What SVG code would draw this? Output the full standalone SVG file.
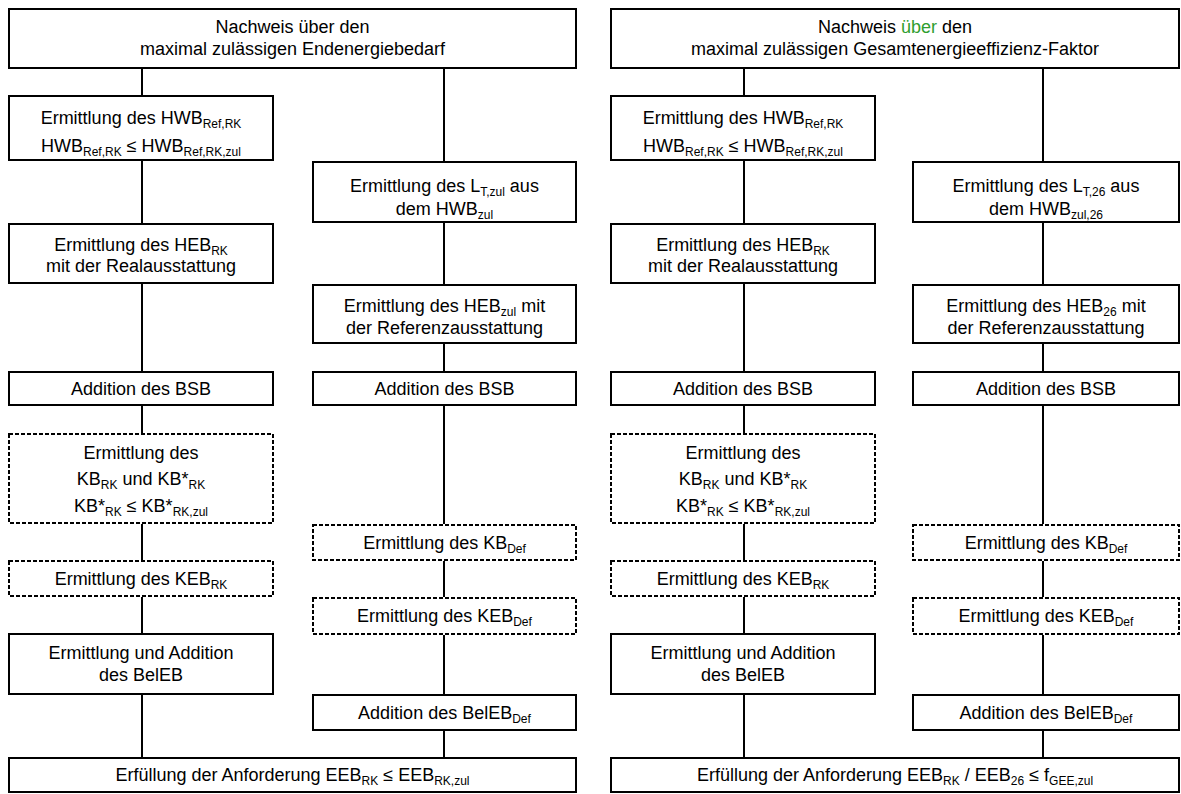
<svg xmlns="http://www.w3.org/2000/svg" width="1181" height="794" viewBox="0 0 1181 794">
<style>
text{font-family:"Liberation Sans",Arial,sans-serif;font-size:18px;fill:#000;text-anchor:middle}
.s{font-size:12px}
.box{fill:#fff;stroke:#000;stroke-width:2}
.dash{fill:#fff;stroke:#000;stroke-width:2;stroke-dasharray:4 2}
.con line{stroke:#000;stroke-width:2}
.g{fill:#2f9e2f}
</style>
<rect width="1181" height="794" fill="#fff"/>
<g id="connectors" class="con">
<line x1="142" y1="69" x2="142" y2="95"/>
<line x1="142" y1="161" x2="142" y2="223"/>
<line x1="142" y1="284" x2="142" y2="371"/>
<line x1="142" y1="406" x2="142" y2="433"/>
<line x1="142" y1="524" x2="142" y2="560"/>
<line x1="142" y1="597" x2="142" y2="633"/>
<line x1="142" y1="695" x2="142" y2="757"/>
<line x1="444" y1="69" x2="444" y2="161"/>
<line x1="444" y1="223" x2="444" y2="284"/>
<line x1="444" y1="344" x2="444" y2="371"/>
<line x1="444" y1="406" x2="444" y2="524"/>
<line x1="444" y1="561" x2="444" y2="597"/>
<line x1="444" y1="635" x2="444" y2="694"/>
<line x1="444" y1="731" x2="444" y2="757"/>
<line x1="744" y1="69" x2="744" y2="95"/>
<line x1="744" y1="161" x2="744" y2="223"/>
<line x1="744" y1="284" x2="744" y2="371"/>
<line x1="744" y1="406" x2="744" y2="433"/>
<line x1="744" y1="524" x2="744" y2="560"/>
<line x1="744" y1="597" x2="744" y2="633"/>
<line x1="744" y1="695" x2="744" y2="757"/>
<line x1="1043" y1="69" x2="1043" y2="161"/>
<line x1="1043" y1="223" x2="1043" y2="284"/>
<line x1="1043" y1="344" x2="1043" y2="371"/>
<line x1="1043" y1="406" x2="1043" y2="524"/>
<line x1="1043" y1="561" x2="1043" y2="597"/>
<line x1="1043" y1="635" x2="1043" y2="694"/>
<line x1="1043" y1="731" x2="1043" y2="757"/>
</g>

<!-- Left diagram -->
<g id="L_top"><rect class="box" x="9" y="9" width="567" height="59"/>
<text x="292.5" y="33">Nachweis über den</text>
<text x="292.5" y="55">maximal zulässigen Endenergiebedarf</text></g>
<g id="L_hwb"><rect class="box" x="9" y="96" width="264" height="64"/>
<text x="141" y="124">Ermittlung des HWB<tspan class="s" dy="4">Ref,RK</tspan></text>
<text x="141" y="152">HWB<tspan class="s" dy="4">Ref,RK</tspan><tspan dy="-4"> ≤ HWB</tspan><tspan class="s" dy="4">Ref,RK,zul</tspan></text></g>
<g id="L_lt"><rect class="box" x="313" y="162" width="263" height="60"/>
<text x="444.5" y="192">Ermittlung des L<tspan class="s" dy="4">T,zul</tspan><tspan dy="-4"> aus</tspan></text>
<text x="444.5" y="215">dem HWB<tspan class="s" dy="4">zul</tspan></text></g>
<g id="L_heb"><rect class="box" x="9" y="224" width="264" height="59"/>
<text x="141" y="251">Ermittlung des HEB<tspan class="s" dy="4">RK</tspan></text>
<text x="141" y="272">mit der Realausstattung</text></g>
<g id="L_hebzul"><rect class="box" x="313" y="285" width="263" height="58"/>
<text x="444.5" y="312">Ermittlung des HEB<tspan class="s" dy="4">zul</tspan><tspan dy="-4"> mit</tspan></text>
<text x="444.5" y="334">der Referenzausstattung</text></g>
<g id="L_bsb1"><rect class="box" x="9" y="372" width="264" height="33"/>
<text x="141" y="395">Addition des BSB</text></g>
<g id="L_bsb2"><rect class="box" x="313" y="372" width="263" height="33"/>
<text x="444.5" y="395">Addition des BSB</text></g>
<g id="L_kb"><rect class="dash" x="9" y="434" width="264" height="89"/>
<text x="141" y="459">Ermittlung des</text>
<text x="141" y="485">KB<tspan class="s" dy="4">RK</tspan><tspan dy="-4"> und KB*</tspan><tspan class="s" dy="4">RK</tspan></text>
<text x="141" y="512">KB*<tspan class="s" dy="4">RK</tspan><tspan dy="-4"> ≤ KB*</tspan><tspan class="s" dy="4">RK,zul</tspan></text></g>
<g id="L_kbdef"><rect class="dash" x="313" y="525" width="263" height="35"/>
<text x="444.5" y="549">Ermittlung des KB<tspan class="s" dy="4">Def</tspan></text></g>
<g id="L_keb"><rect class="dash" x="9" y="561" width="264" height="35"/>
<text x="141" y="585">Ermittlung des KEB<tspan class="s" dy="4">RK</tspan></text></g>
<g id="L_kebdef"><rect class="dash" x="313" y="598" width="263" height="36"/>
<text x="444.5" y="622">Ermittlung des KEB<tspan class="s" dy="4">Def</tspan></text></g>
<g id="L_beleb"><rect class="box" x="9" y="634" width="264" height="60"/>
<text x="141" y="659">Ermittlung und Addition</text>
<text x="141" y="681">des BelEB</text></g>
<g id="L_belebdef"><rect class="box" x="313" y="695" width="263" height="35"/>
<text x="444.5" y="719">Addition des BelEB<tspan class="s" dy="4">Def</tspan></text></g>
<g id="L_bottom"><rect class="box" x="9" y="758" width="567" height="34"/>
<text x="292.5" y="781">Erfüllung der Anforderung EEB<tspan class="s" dy="4">RK</tspan><tspan dy="-4"> ≤ EEB</tspan><tspan class="s" dy="4">RK,zul</tspan></text></g>

<!-- Right diagram -->
<g id="R_top"><rect class="box" x="611" y="9" width="568" height="59"/>
<text x="895" y="33">Nachweis <tspan class="g">über</tspan> den</text>
<text x="895" y="55">maximal zulässigen Gesamtenergieeffizienz-Faktor</text></g>
<g id="R_hwb"><rect class="box" x="611" y="96" width="264" height="64"/>
<text x="743" y="124">Ermittlung des HWB<tspan class="s" dy="4">Ref,RK</tspan></text>
<text x="743" y="152">HWB<tspan class="s" dy="4">Ref,RK</tspan><tspan dy="-4"> ≤ HWB</tspan><tspan class="s" dy="4">Ref,RK,zul</tspan></text></g>
<g id="R_lt"><rect class="box" x="913" y="162" width="266" height="60"/>
<text x="1046" y="192">Ermittlung des L<tspan class="s" dy="4">T,26</tspan><tspan dy="-4"> aus</tspan></text>
<text x="1046" y="215">dem HWB<tspan class="s" dy="4">zul,26</tspan></text></g>
<g id="R_heb"><rect class="box" x="611" y="224" width="264" height="59"/>
<text x="743" y="251">Ermittlung des HEB<tspan class="s" dy="4">RK</tspan></text>
<text x="743" y="272">mit der Realausstattung</text></g>
<g id="R_heb26"><rect class="box" x="913" y="285" width="266" height="58"/>
<text x="1046" y="312">Ermittlung des HEB<tspan class="s" dy="4">26</tspan><tspan dy="-4"> mit</tspan></text>
<text x="1046" y="334">der Referenzausstattung</text></g>
<g id="R_bsb1"><rect class="box" x="611" y="372" width="264" height="33"/>
<text x="743" y="395">Addition des BSB</text></g>
<g id="R_bsb2"><rect class="box" x="913" y="372" width="266" height="33"/>
<text x="1046" y="395">Addition des BSB</text></g>
<g id="R_kb"><rect class="dash" x="611" y="434" width="264" height="89"/>
<text x="743" y="459">Ermittlung des</text>
<text x="743" y="485">KB<tspan class="s" dy="4">RK</tspan><tspan dy="-4"> und KB*</tspan><tspan class="s" dy="4">RK</tspan></text>
<text x="743" y="512">KB*<tspan class="s" dy="4">RK</tspan><tspan dy="-4"> ≤ KB*</tspan><tspan class="s" dy="4">RK,zul</tspan></text></g>
<g id="R_kbdef"><rect class="dash" x="913" y="525" width="266" height="35"/>
<text x="1046" y="549">Ermittlung des KB<tspan class="s" dy="4">Def</tspan></text></g>
<g id="R_keb"><rect class="dash" x="611" y="561" width="264" height="35"/>
<text x="743" y="585">Ermittlung des KEB<tspan class="s" dy="4">RK</tspan></text></g>
<g id="R_kebdef"><rect class="dash" x="913" y="598" width="266" height="36"/>
<text x="1046" y="622">Ermittlung des KEB<tspan class="s" dy="4">Def</tspan></text></g>
<g id="R_beleb"><rect class="box" x="611" y="634" width="264" height="60"/>
<text x="743" y="659">Ermittlung und Addition</text>
<text x="743" y="681">des BelEB</text></g>
<g id="R_belebdef"><rect class="box" x="913" y="695" width="266" height="35"/>
<text x="1046" y="719">Addition des BelEB<tspan class="s" dy="4">Def</tspan></text></g>
<g id="R_bottom"><rect class="box" x="611" y="758" width="568" height="34"/>
<text x="895" y="781">Erfüllung der Anforderung EEB<tspan class="s" dy="4">RK</tspan><tspan dy="-4"> / EEB</tspan><tspan class="s" dy="4">26</tspan><tspan dy="-4"> ≤ f</tspan><tspan class="s" dy="4">GEE,zul</tspan></text></g>
</svg>
